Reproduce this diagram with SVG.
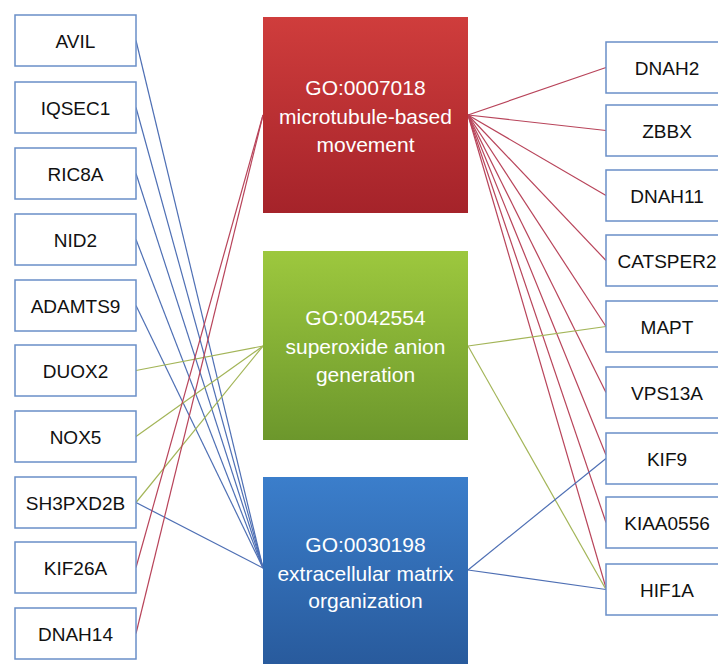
<svg xmlns="http://www.w3.org/2000/svg" width="718" height="664" viewBox="0 0 718 664">
<defs>
<linearGradient id="gRed" x1="0" y1="0" x2="0" y2="1"><stop offset="0" stop-color="#cf3d3c"/><stop offset="1" stop-color="#a5232a"/></linearGradient>
<linearGradient id="gGreen" x1="0" y1="0" x2="0" y2="1"><stop offset="0" stop-color="#9dc83e"/><stop offset="1" stop-color="#6c972c"/></linearGradient>
<linearGradient id="gBlue" x1="0" y1="0" x2="0" y2="1"><stop offset="0" stop-color="#3b7ecb"/><stop offset="1" stop-color="#285a9c"/></linearGradient>
</defs>
<style>
.gene rect{fill:#ffffff;stroke:#6a8fc8;stroke-width:1.5}
.gene text{font-family:"Liberation Sans",Arial,sans-serif;font-size:19px;fill:#111;text-anchor:middle}
.go text{font-family:"Liberation Sans",Arial,sans-serif;font-size:21px;fill:#ffffff;text-anchor:middle}
.r{stroke:#b8445a;stroke-width:1.2;fill:none}
.b{stroke:#4e6fb4;stroke-width:1.2;fill:none}
.g{stroke:#a3b558;stroke-width:1.2;fill:none}
</style>
<rect width="718" height="664" fill="#ffffff"/>
<g id="connectors">
<line class="b" x1="136" y1="40.5" x2="263" y2="568"/>
<line class="b" x1="136" y1="107.5" x2="263" y2="568"/>
<line class="b" x1="136" y1="173.5" x2="263" y2="568"/>
<line class="b" x1="136" y1="239.5" x2="263" y2="568"/>
<line class="b" x1="136" y1="305.5" x2="263" y2="568"/>
<line class="b" x1="136" y1="502.5" x2="263" y2="568"/>
<line class="g" x1="136" y1="370.5" x2="263" y2="346"/>
<line class="g" x1="136" y1="436.5" x2="263" y2="346"/>
<line class="g" x1="136" y1="502.5" x2="263" y2="346"/>
<line class="r" x1="136" y1="567.5" x2="263" y2="115"/>
<line class="r" x1="136" y1="633.5" x2="263" y2="115"/>
<line class="r" x1="468" y1="115" x2="606" y2="67.5"/>
<line class="r" x1="468" y1="115" x2="606" y2="130.5"/>
<line class="r" x1="468" y1="115" x2="606" y2="195.5"/>
<line class="r" x1="468" y1="115" x2="606" y2="260.5"/>
<line class="r" x1="468" y1="115" x2="606" y2="326.5"/>
<line class="r" x1="468" y1="115" x2="606" y2="392.5"/>
<line class="r" x1="468" y1="115" x2="606" y2="455"/>
<line class="r" x1="468" y1="115" x2="606" y2="522.5"/>
<line class="r" x1="468" y1="115" x2="606" y2="588"/>
<line class="g" x1="468" y1="346" x2="606" y2="326.5"/>
<line class="g" x1="468" y1="346" x2="606" y2="589.5"/>
<line class="b" x1="468" y1="570" x2="606" y2="458.5"/>
<line class="b" x1="468" y1="570" x2="606" y2="589.5"/>
</g>
<g id="go0007018" class="go"><rect x="263" y="17" width="205" height="196" fill="url(#gRed)"/><text x="365.5" y="95">GO:0007018</text><text x="365.5" y="123.5">microtubule-based</text><text x="365.5" y="152">movement</text></g>
<g id="go0042554" class="go"><rect x="263" y="251" width="205" height="189" fill="url(#gGreen)"/><text x="365.5" y="325">GO:0042554</text><text x="365.5" y="353.5">superoxide anion</text><text x="365.5" y="382">generation</text></g>
<g id="go0030198" class="go"><rect x="263" y="477" width="205" height="190" fill="url(#gBlue)"/><text x="365.5" y="552">GO:0030198</text><text x="365.5" y="580.5">extracellular matrix</text><text x="365.5" y="608">organization</text></g>
<g id="AVIL" class="gene"><rect x="15" y="15" width="121" height="51"/><text x="75.5" y="47.5">AVIL</text></g>
<g id="IQSEC1" class="gene"><rect x="15" y="82" width="121" height="51"/><text x="75.5" y="114.5">IQSEC1</text></g>
<g id="RIC8A" class="gene"><rect x="15" y="148" width="121" height="51"/><text x="75.5" y="180.5">RIC8A</text></g>
<g id="NID2" class="gene"><rect x="15" y="214" width="121" height="51"/><text x="75.5" y="246.5">NID2</text></g>
<g id="ADAMTS9" class="gene"><rect x="15" y="280" width="121" height="51"/><text x="75.5" y="312.5">ADAMTS9</text></g>
<g id="DUOX2" class="gene"><rect x="15" y="345" width="121" height="51"/><text x="75.5" y="377.5">DUOX2</text></g>
<g id="NOX5" class="gene"><rect x="15" y="411" width="121" height="51"/><text x="75.5" y="443.5">NOX5</text></g>
<g id="SH3PXD2B" class="gene"><rect x="15" y="477" width="121" height="51"/><text x="75.5" y="509.5">SH3PXD2B</text></g>
<g id="KIF26A" class="gene"><rect x="15" y="542" width="121" height="51"/><text x="75.5" y="574.5">KIF26A</text></g>
<g id="DNAH14" class="gene"><rect x="15" y="608" width="121" height="51"/><text x="75.5" y="640.5">DNAH14</text></g>
<g id="DNAH2" class="gene"><rect x="606" y="42" width="130" height="51"/><text x="667" y="74.5">DNAH2</text></g>
<g id="ZBBX" class="gene"><rect x="606" y="105" width="130" height="51"/><text x="667" y="137.5">ZBBX</text></g>
<g id="DNAH11" class="gene"><rect x="606" y="170" width="130" height="51"/><text x="667" y="202.5">DNAH11</text></g>
<g id="CATSPER2" class="gene"><rect x="606" y="235" width="130" height="51"/><text x="667" y="267.5">CATSPER2</text></g>
<g id="MAPT" class="gene"><rect x="606" y="301" width="130" height="51"/><text x="667" y="333.5">MAPT</text></g>
<g id="VPS13A" class="gene"><rect x="606" y="367" width="130" height="51"/><text x="667" y="399.5">VPS13A</text></g>
<g id="KIF9" class="gene"><rect x="606" y="433" width="130" height="51"/><text x="667" y="465.5">KIF9</text></g>
<g id="KIAA0556" class="gene"><rect x="606" y="497" width="130" height="51"/><text x="667" y="529.5">KIAA0556</text></g>
<g id="HIF1A" class="gene"><rect x="606" y="564" width="130" height="51"/><text x="667" y="596.5">HIF1A</text></g>
</svg>
